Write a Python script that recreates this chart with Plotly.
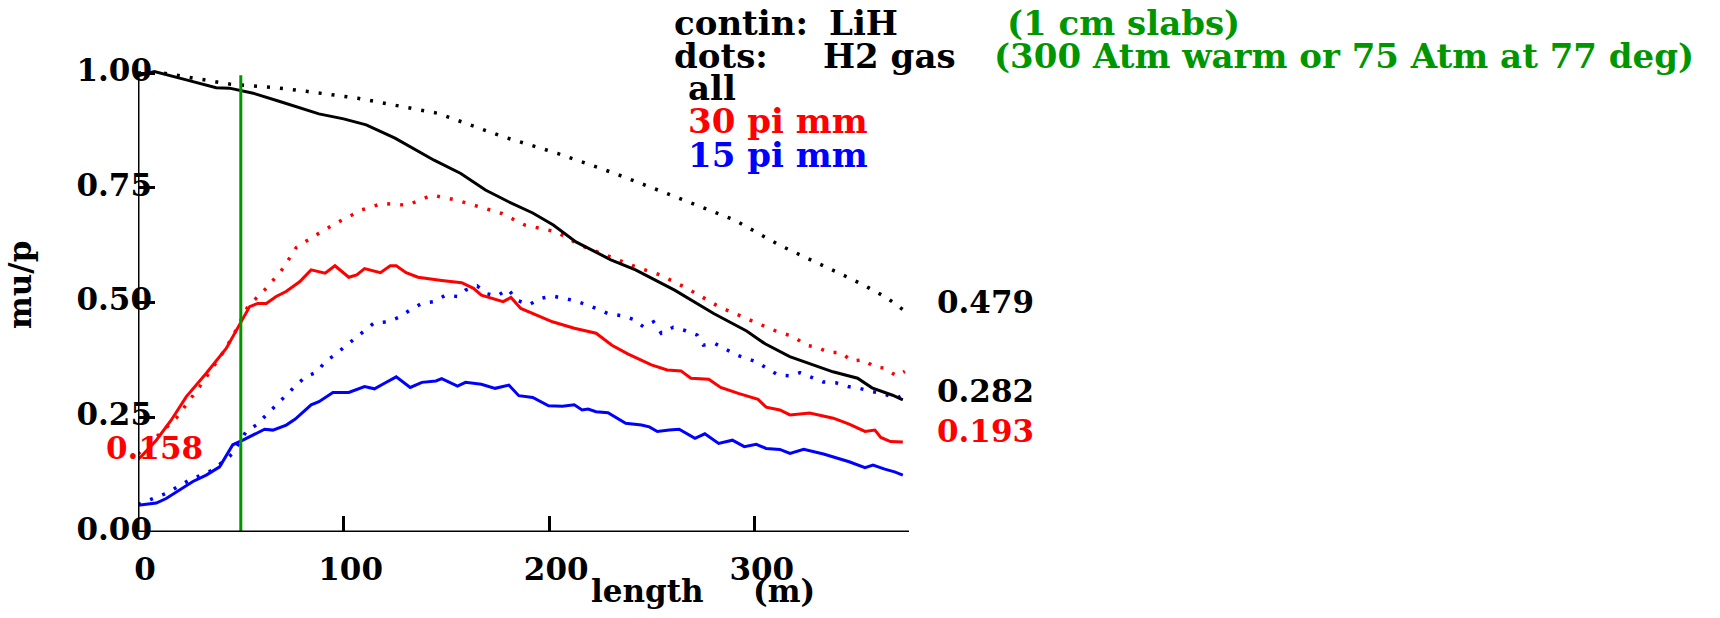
import plotly.graph_objects as go

# ---------------- data ----------------
lih_all_x = [0, 8, 23.5, 38, 44.5, 56, 69, 80, 88, 100, 111, 125, 144, 157, 169, 180, 192, 202, 213,
             230, 242, 261, 280, 296, 305, 317, 328, 338, 350, 357, 367, 372]
lih_all_y = [0.994, 1.003, 0.985, 0.968, 0.967, 0.956, 0.938, 0.922, 0.911, 0.900, 0.887, 0.858, 0.810,
             0.781, 0.745, 0.720, 0.695, 0.669, 0.632, 0.593, 0.571, 0.527, 0.476, 0.438, 0.410, 0.382,
             0.364, 0.349, 0.335, 0.314, 0.298, 0.288]

h2_all_x = [0, 12, 44.5, 69, 82, 107, 146, 177, 204, 232, 261, 290, 312, 319, 330, 341, 353, 364, 374]
h2_all_y = [1.0, 1.0, 0.976, 0.967, 0.960, 0.945, 0.912, 0.862, 0.825, 0.781, 0.731, 0.680, 0.625,
            0.611, 0.587, 0.564, 0.538, 0.511, 0.478]

h2_30_x = [0, 4, 18.6, 30, 41, 46, 53.4, 62.4, 70.5, 77, 88, 97.7, 109, 119, 131, 143, 155, 165, 177,
           188, 203.5, 215, 229, 242, 254, 267, 282.5, 298, 309, 319, 325, 330, 336, 342, 347, 353, 358,
           363, 369, 373]
h2_30_y = [0.17, 0.186, 0.248, 0.317, 0.389, 0.425, 0.491, 0.531, 0.574, 0.620, 0.651, 0.676, 0.702,
           0.716, 0.712, 0.734, 0.723, 0.709, 0.694, 0.669, 0.654, 0.625, 0.600, 0.578, 0.560, 0.531,
           0.491, 0.462, 0.440, 0.425, 0.407, 0.403, 0.391, 0.391, 0.373, 0.375, 0.360, 0.357, 0.340,
           0.350]

lih_30_x = [0, 2.3, 8.9, 16.2, 23.5, 33.2, 42.9, 49.4, 54.3, 58.3, 62.4, 67.2, 72, 78.6, 84.2, 91, 95.8,
            102.5, 106.4, 110.2, 117.9, 122.7, 125.6, 130.4, 136.2, 147.7, 157.4, 163.2, 167, 177.6,
            181.4, 186.2, 193.9, 201.6, 212.2, 222.8, 230.5, 238.2, 249.7, 257.4, 264.1, 268.9, 277.6,
            283.4, 292, 301.6, 305.5, 312.2, 317.1, 326.7, 338.2, 345.9, 353.6, 358.4, 361.3, 366, 372]
lih_30_y = [0.158, 0.168, 0.200, 0.244, 0.295, 0.346, 0.400, 0.451, 0.491, 0.498, 0.498, 0.513, 0.524,
            0.545, 0.571, 0.564, 0.580, 0.555, 0.560, 0.574, 0.565, 0.580, 0.580, 0.565, 0.555, 0.548,
            0.543, 0.531, 0.516, 0.502, 0.511, 0.487, 0.473, 0.458, 0.444, 0.433, 0.407, 0.388, 0.364,
            0.353, 0.351, 0.335, 0.333, 0.315, 0.302, 0.289, 0.272, 0.266, 0.255, 0.259, 0.248, 0.235,
            0.219, 0.222, 0.206, 0.197, 0.196]

h2_15_x = [0, 13.7, 25, 36.4, 46.1, 52.6, 57.5, 62.4, 67.2, 71.3, 76.3, 81.4, 87.2, 91, 95.8, 100.6,
           105.4, 110.2, 115, 121.7, 127.5, 132.4, 138.1, 143.9, 149.7, 155.4, 159.3, 165, 169.8, 174.6,
           180, 184.3, 190.1, 195.9, 201.6, 207.4, 213.2, 222.8, 228.6, 235.3, 241.1, 245.9, 250.7,
           254.5, 260.3, 266.1, 272, 275, 280.5, 291, 300.7, 311.3, 318, 322, 327.6, 333.2, 339.4,
           345.4, 350.8, 356.8, 362.8, 368.6, 374]
h2_15_y = [0.06, 0.084, 0.113, 0.135, 0.171, 0.219, 0.233, 0.255, 0.277, 0.295, 0.317, 0.338, 0.349,
           0.371, 0.386, 0.404, 0.422, 0.440, 0.456, 0.458, 0.469, 0.484, 0.498, 0.502, 0.516, 0.513,
           0.527, 0.536, 0.519, 0.514, 0.529, 0.505, 0.495, 0.509, 0.514, 0.509, 0.503, 0.487, 0.476,
           0.471, 0.463, 0.447, 0.458, 0.433, 0.446, 0.439, 0.429, 0.407, 0.411, 0.386, 0.371, 0.342,
           0.340, 0.347, 0.336, 0.327, 0.325, 0.317, 0.313, 0.306, 0.301, 0.291, 0.302]

lih_15_x = [0, 2.3, 8.9, 13.7, 20.2, 26.7, 33.2, 39.7, 46.1, 51, 61.6, 65.6, 72.1, 76.5, 84.2, 88, 94.8,
            102.5, 110.2, 115, 119.9, 125.6, 132.4, 138.1, 144.9, 147.7, 155.4, 159.3, 167, 173.7,
            180.4, 185.2, 192, 199.7, 206.4, 212.2, 216, 218.9, 222.8, 228.6, 237.2, 244.9, 248.7,
            252.6, 258.4, 263.2, 270.9, 275.7, 282.4, 289.1, 294.9, 300.7, 305.5, 312.2, 317.1, 323.8,
            333.4, 340.1, 345.9, 353.6, 357.5, 363.2, 368, 372]
lih_15_y = [0.058, 0.059, 0.063, 0.073, 0.092, 0.110, 0.124, 0.142, 0.190, 0.200, 0.224, 0.222, 0.233,
            0.246, 0.277, 0.284, 0.304, 0.304, 0.317, 0.312, 0.324, 0.338, 0.315, 0.326, 0.329, 0.334,
            0.318, 0.326, 0.322, 0.313, 0.320, 0.297, 0.293, 0.275, 0.274, 0.277, 0.266, 0.268, 0.262,
            0.260, 0.237, 0.233, 0.229, 0.219, 0.222, 0.224, 0.204, 0.214, 0.193, 0.200, 0.186, 0.191,
            0.182, 0.180, 0.171, 0.180, 0.170, 0.161, 0.153, 0.140, 0.146, 0.137, 0.131, 0.124]

marker_x = [50, 50]
marker_y = [0, 0.995]

x_ticks = [0, 100, 200, 300]
y_ticks = [0, 0.25, 0.5, 0.75, 1.0]

end_labels = ["0.479", "0.282", "0.193"]
start_label = "0.158"

# ---------------- styling ----------------
FONT = "DejaVu Serif"
BLACK, RED, BLUE, GREEN = "#000000", "#ff0000", "#0000ff", "#009600"
DOT = "3px,10px"

fig = go.Figure()

def add(x, y, color, dash=None):
    fig.add_trace(go.Scatter(x=x, y=y, mode="lines",
                             line=dict(color=color, width=3.5 if dash else 3,
                                       dash=dash if dash else "solid"),
                             showlegend=False, hoverinfo="skip"))

add(h2_all_x, h2_all_y, BLACK, DOT)
add(h2_30_x, h2_30_y, RED, DOT)
add(h2_15_x, h2_15_y, BLUE, DOT)
add(lih_all_x, lih_all_y, BLACK)
add(lih_30_x, lih_30_y, RED)
add(lih_15_x, lih_15_y, BLUE)
add(marker_x, marker_y, GREEN)

W, H = 1720, 618
L, R, T, B = 138, 811, 64, 86
PW, PH = W - L - R, H - T - B

def px(x):
    return (x - L) / PW

def py(y):
    return (H - B - y) / PH

def text(s, x, y, color=BLACK, size=31, xanchor="left", angle=0):
    fig.add_annotation(text=s, x=px(x), y=py(y), xref="paper", yref="paper",
                       xanchor=xanchor, yanchor="middle", showarrow=False, textangle=angle,
                       font=dict(family=FONT, size=size, color=color, weight="bold"))

def key(s, x, base, color=BLACK):
    text(s, x - 3, base - 12, color, size=34)

key("contin:", 675, 35)
key("LiH", 830, 35)
key("(1 cm slabs)", 1008, 35, GREEN)
key("dots:", 675, 68)
key("H2 gas", 824, 68)
key("(300 Atm warm or 75 Atm at 77 deg)", 995, 68, GREEN)
key("all", 689, 100)
key("30 pi mm", 689, 133, RED)
key("15 pi mm", 689, 167, BLUE)

text(end_labels[0], 935, 313 - 11)
text(end_labels[1], 935, 402 - 11)
text(end_labels[2], 935, 442 - 11, RED)
text(start_label, 104, 459 - 11, RED)

text("length", 589, 602 - 11)
text("(m)", 751, 602 - 11)
text("mu/p", 20, 285, angle=-90, xanchor="center")

# axis lines
fig.add_shape(type="line", x0=0, x1=375, y0=0, y1=0, xref="x", yref="y",
              line=dict(color=BLACK, width=3))
fig.add_shape(type="line", x0=0, x1=0, y0=0, y1=1.0, xref="x", yref="y",
              line=dict(color=BLACK, width=3))

tickfont = dict(family=FONT, size=31, color=BLACK, weight="bold")
fig.update_layout(
    width=W, height=H,
    margin=dict(l=L, r=R, t=T, b=B),
    paper_bgcolor="white", plot_bgcolor="white",
    xaxis=dict(range=[0, 375], showgrid=False, zeroline=False, showline=False,
               tickmode="array", tickvals=x_ticks, ticktext=[str(v) for v in x_ticks],
               ticks="inside", ticklen=16, tickwidth=3, tickcolor=BLACK,
               tickfont=tickfont, ticklabelstandoff=16, ticklabelshift=7),
    yaxis=dict(range=[0, 1.0196], showgrid=False, zeroline=False, showline=False,
               tickmode="array", tickvals=y_ticks, ticktext=["%.2f" % v for v in y_ticks],
               ticks="inside", ticklen=17, tickwidth=3, tickcolor=BLACK,
               tickfont=tickfont, ticklabelstandoff=-15, ticklabelshift=-3),
)

fig.write_html("out.html", config={"displayModeBar": False},
               post_script="document.body.style.margin='0';")
